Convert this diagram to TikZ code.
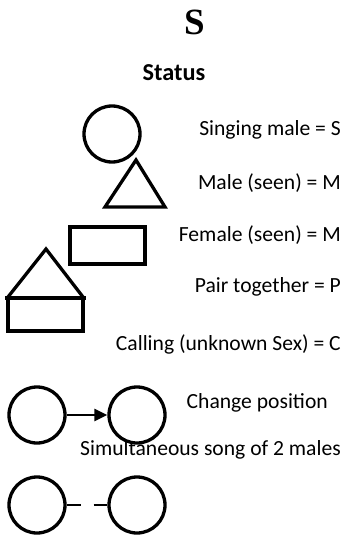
\documentclass[tikz,border=0pt]{standalone}
\usepackage{fontspec}
\setmainfont{Carlito}
\newfontfamily\headfont{Liberation Serif}
\usetikzlibrary{arrows.meta}

\begin{document}
\begin{tikzpicture}[x=1pt,y=-1pt,
    bird/.style={draw,circle,line width=3.3pt,minimum size=56pt,inner sep=0pt},
    sign/.style={line width=3.3pt,line join=miter},
    legend/.style={anchor=east,inner sep=0pt,font=\fontsize{21.6}{24}\selectfont}]
    \useasboundingbox (0,0) rectangle (343,540);

    \node[inner sep=0pt] (title) at (195,22) {\headfont\bfseries\fontsize{37}{40}\selectfont S};
    \node (status) at (174,73) {\bfseries\fontsize{24.3}{27}\selectfont Status};

    % symbols
    \node[bird] (sing) at (112,134) {};
    \draw[sign] (136,160) -- (165,207) -- (105,207) -- cycle;
    \draw[sign] (70,227) rectangle (145,264);
    \draw[sign] (8,297) -- (46,249) -- (83,297);
    \draw[sign] (5,298) -- (86,298);
    \draw[sign] (8,298) rectangle (83,331);

    \node[bird] (oldpos) at (37,415) {};
    \node[bird] (newpos) at (137,415) {};
    \draw[line width=2.4pt,-{Triangle[length=13pt,width=12pt]}] (oldpos) -- (newpos);

    \node[bird] (male1) at (37,505) {};
    \node[bird] (male2) at (137,505) {};
    \draw[line width=2.4pt,dash pattern=on 14pt off 13pt] (male1) -- (male2);

    % texts
    \node[legend] (tsing) at (341,130) {Singing male = S};
    \node[legend] (tmale) at (341,183) {Male (seen) = M};
    \node[legend] (tfemale) at (341,235) {Female (seen) = M};
    \node[legend] (tpair) at (341,287) {Pair together = P};
    \node[legend] (tcall) at (341,344) {Calling (unknown Sex) = C};
    \node[legend] (tchange) at (328,403) {Change position};
    \node[legend] (tsimul) at (341,450) {Simultaneous song of 2 males};
\end{tikzpicture}
\end{document}
